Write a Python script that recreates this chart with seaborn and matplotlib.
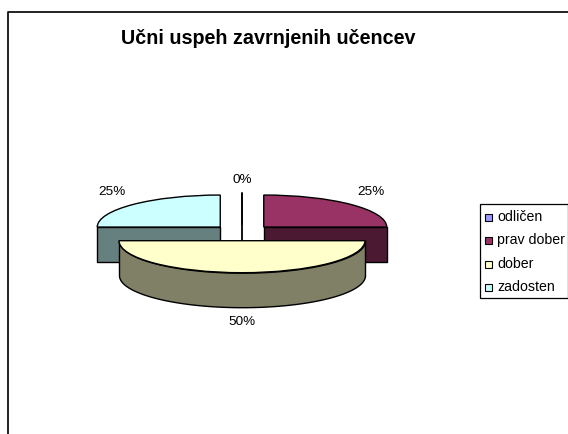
#!/usr/bin/env python3
"""Pie chart of final grades, drawn flat and extruded to look 3D."""

import numpy as np
import matplotlib

matplotlib.use("Agg")
import matplotlib.pyplot as plt
from matplotlib.lines import Line2D
from matplotlib.patches import Rectangle
import seaborn as sns

categories = ["odličen", "prav dober", "dober", "zadosten"]
values = [0, 25, 50, 25]
title = "Učni uspeh zavrnjenih učencev"
colors = ["#9999FF", "#993366", "#FFFFCC", "#CCFFFF"]
side_colors = ["#4C4C80", "#4C1933", "#808066", "#668080"]

W, H = 568, 434
CX, CY = 242, 232.7  # pie centre, px
RX, RY = 123, 32  # ellipse radii, px
EXPLODE = 0.25
DEPTH = 34.5 / RY

sns.set_theme(style="white")
plt.rcParams["font.family"] = ["Liberation Sans", "DejaVu Sans"]

fig = plt.figure(figsize=(W / 100, H / 100), dpi=100)

# axes scaled so one data unit is RX px wide and RY px tall
xmin, xmax, ymin, ymax = -1.7, 1.7, -2.6, 1.7
ax = fig.add_axes(
    [
        (CX + xmin * RX) / W,
        1 - (CY - ymin * RY) / H,
        (xmax - xmin) * RX / W,
        (ymax - ymin) * RY / H,
    ]
)

total = sum(values)
angle = 90.0
slices = []
for val in values:
    sweep = 360.0 * val / total
    slices.append((angle - sweep, angle))
    angle -= sweep

# back to front, so the big front slice covers the others
order = [0, 1, 3, 2]
for z, i in enumerate(order):
    t1, t2 = slices[i]
    mid = np.radians((t1 + t2) / 2)
    ox, oy = EXPLODE * np.cos(mid), EXPLODE * np.sin(mid)
    t = np.radians(np.linspace(t1, t2, 200))
    low = np.sin(t) <= 1e-9
    xs, ys = np.cos(t[low]) + ox, np.sin(t[low]) + oy
    if t2 - t1 < 180 and len(xs):
        xs, ys = np.append(xs, ox), np.append(ys, oy)
    if len(xs):
        srt = np.argsort(xs)
        ax.fill_between(
            xs[srt], ys[srt], ys[srt] - DEPTH,
            color=side_colors[i], lw=1.0, edgecolor="black", zorder=z * 2 + 1,
        )
    else:
        # empty slice is only a line, down through the pie body too
        ax.plot([ox, ox], [oy + 1, oy - DEPTH], color="black", lw=1.3, zorder=z * 2 + 1)
    wedges, _ = ax.pie(
        [values[i], total - values[i]],
        startangle=t1 if values[i] else t2,
        colors=[colors[i], "none"],
        center=(ox, oy),
        radius=1,
        wedgeprops={"linewidth": 0},
        frame=True,
    )
    wedges[0].set_edgecolor("black")
    wedges[0].set_linewidth(1.0)
    wedges[0].set_zorder(z * 2 + 2)
    wedges[1].set_visible(False)

ax.set_aspect("auto")
ax.set_xlim(xmin, xmax)
ax.set_ylim(ymin, ymax)
ax.axis("off")

fig.add_artist(
    Line2D([7.5 / W, 7.5 / W, 1], [0, 1 - 12 / H, 1 - 12 / H], color="#111111", lw=1.3)
)

fig.text(268 / W, 1 - 38 / H, title, ha="center", va="center",
         fontsize=14.2, fontweight="bold", color="black")

# percent labels sit around the pie
label_pos = [(242, 180), (371, 192), (242, 322), (112, 192)]
for val, (px, py) in zip(values, label_pos):
    fig.text(px / W, 1 - py / H, f"{val}%", ha="center", va="center",
             fontsize=9.7, color="black")

# legend box
fig.add_artist(
    Rectangle((479.5 / W, 1 - 298 / H), 88 / W, 94 / H, transform=fig.transFigure,
              facecolor="white", edgecolor="black", lw=0.9)
)
legend_y = [217, 240, 264, 287]
for name, col, py in zip(categories, colors, legend_y):
    fig.add_artist(
        Rectangle((485 / W, 1 - (py + 3.5) / H), 7 / W, 7 / H, transform=fig.transFigure,
                  facecolor=col, edgecolor="black", lw=0.8)
    )
    fig.text(497 / W, 1 - py / H, name, ha="left", va="center",
             fontsize=10.2, color="black")

fig.savefig("out.png", dpi=100)
